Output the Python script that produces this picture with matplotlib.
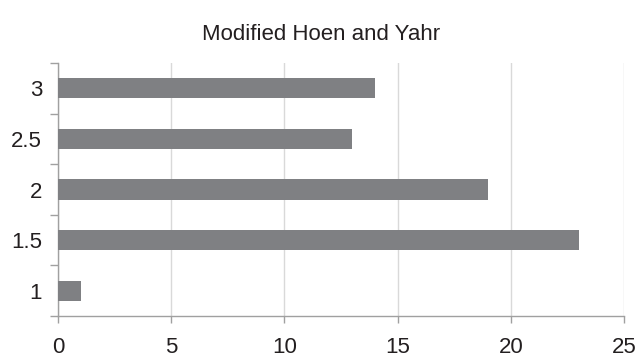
import matplotlib
matplotlib.use("Agg")
import matplotlib.pyplot as plt

# data
categories = ["1", "1.5", "2", "2.5", "3"]
values = [1, 23, 19, 13, 14]
xticks = [0, 5, 10, 15, 20, 25]

plt.rcParams['font.family'] = ['Liberation Sans', 'DejaVu Sans']

fig = plt.figure(figsize=(6.38, 3.58), dpi=100)
ax = fig.add_axes([58 / 638, 1 - 316 / 358, (624 - 58) / 638, (316 - 63) / 358])

pos = list(range(len(categories)))
ax.barh(pos, values, height=0.4, color="#7f8083", zorder=3)

ax.set_xlim(0, 25)
ax.set_ylim(-0.5, len(categories) - 0.5)
ax.set_xticks(xticks)
ax.set_xticklabels([str(t) for t in xticks], fontsize=16, color="#231f20")
ax.xaxis.grid(True, color="#d9d9d9", linewidth=1, zorder=0)

# category labels centered, tick marks on the boundaries
ax.set_yticks(pos)
ax.set_yticklabels(categories, fontsize=16, color="#231f20")
ax.tick_params(axis="y", which="major", length=0, pad=11.5)
ax.set_yticks([p - 0.5 for p in pos] + [len(pos) - 0.5], minor=True)
ax.tick_params(axis="y", which="minor", length=6, color="#a0a0a0", width=1)
ax.tick_params(axis="x", length=5, color="#a0a0a0", width=1, pad=10)

for s in ["top", "right"]:
    ax.spines[s].set_visible(False)
for s in ["left", "bottom"]:
    ax.spines[s].set_color("#a0a0a0")
    ax.spines[s].set_linewidth(1)

fig.text(321 / 638, 1 - 34 / 358, "Modified Hoen and Yahr", ha="center", va="center",
         fontsize=16, color="#231f20")

fig.savefig("out.png", dpi=100)
